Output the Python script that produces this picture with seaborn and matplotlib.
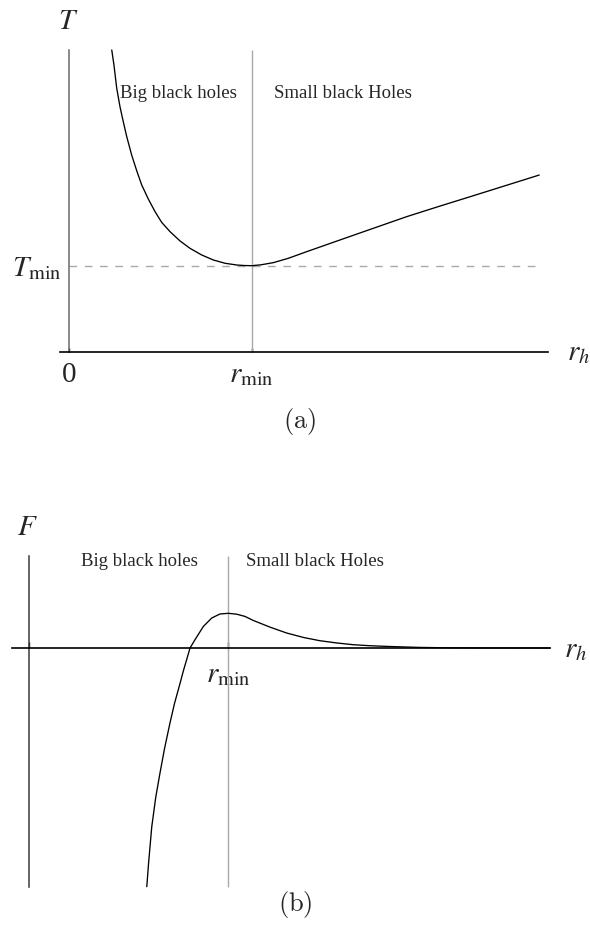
import matplotlib
matplotlib.use("Agg")
import numpy as np
import pandas as pd
import seaborn as sns
import matplotlib.pyplot as plt

# ---------------- data ----------------
# Panel (a): temperature T versus horizon radius r_h (units: r_min = 1, T_min = 1)
r_T = [0.234, 0.246, 0.261, 0.279, 0.297, 0.316, 0.343, 0.371, 0.398, 0.434,
       0.471, 0.507, 0.553, 0.608, 0.662, 0.726, 0.790, 0.854, 0.918, 0.960,
       1.000, 1.050, 1.118, 1.200, 1.301, 1.390, 1.483, 1.666, 1.848, 2.030,
       2.213, 2.574]
T_vals = [3.491, 3.318, 3.052, 2.836, 2.663, 2.490, 2.278, 2.094, 1.932, 1.770,
          1.624, 1.501, 1.393, 1.285, 1.201, 1.124, 1.066, 1.028, 1.008, 1.002,
          1.000, 1.010, 1.035, 1.085, 1.162, 1.228, 1.297, 1.432, 1.566, 1.688,
          1.808, 2.047]

# Panel (b): free energy F versus r_h (units: r_min = 1, F(r_min) = 1)
r_F = [0.591, 0.600, 0.616, 0.636, 0.657, 0.680, 0.707, 0.730, 0.758, 0.775,
       0.791, 0.808, 0.833, 0.875, 0.917, 0.958, 1.000, 1.042, 1.084, 1.125,
       1.210, 1.293, 1.380, 1.460, 1.545, 1.627, 1.710, 1.795, 1.962, 2.100,
       2.300, 2.614]
F_vals = [-6.879, -6.200, -5.150, -4.300, -3.611, -2.900, -2.170, -1.600, -1.017, -0.650,
          -0.337, 0.000, 0.240, 0.622, 0.865, 0.980, 1.000, 0.975, 0.910, 0.795,
          0.600, 0.432, 0.300, 0.210, 0.145, 0.095, 0.066, 0.046, 0.017, 0.006,
          0.002, 0.000]

r_min = 1.0
T_min = 1.0
x_ticks = [0.0, r_min]
x_ticklabels_a = ["0", r"$r_{\mathrm{min}}$"]
x_ticklabels_b = ["", r"$r_{\mathrm{min}}$"]
region_labels = ["Big black holes", "Small black Holes"]

# extents of axis lines (data units)
a_top, a_xlo, a_xhi, a_dash_end = 3.491, -0.049, 2.622, 2.589
b_top, b_bot, b_xlo, b_xhi = 2.660, -6.879, -0.084, 2.614

# ---------------- style ----------------
sns.set_theme(style="white")
plt.rcParams["font.family"] = ["Liberation Serif", "DejaVu Serif"]
plt.rcParams["mathtext.fontset"] = "stix"

W, H = 590, 933
fig = plt.figure(figsize=(W / 100, H / 100), dpi=100)
fig.patch.set_facecolor("white")

axA = fig.add_axes([0, 1 - 440 / H, 1, 440 / H])
axB = fig.add_axes([0, 0, 1, 463 / H])

AXIS_GRAY = "#6a6a6a"
LIGHT_GRAY = "#a9a9a9"
MATH_FS = 21
TEXT_FS = 13.5
CURVE_LW = 0.95

def setup(ax, xlim, ylim, left_bounds, bottom_bounds, left_color):
    ax.set_facecolor("none")
    ax.set_xlim(*xlim)
    ax.set_ylim(*ylim)
    for s in ("top", "right"):
        ax.spines[s].set_visible(False)
    ax.spines["left"].set_position(("data", 0))
    ax.spines["bottom"].set_position(("data", 0))
    ax.spines["left"].set_bounds(*left_bounds)
    ax.spines["bottom"].set_bounds(*bottom_bounds)
    ax.spines["left"].set_color(left_color)
    ax.spines["left"].set_linewidth(1.1)
    ax.spines["bottom"].set_color("black")
    ax.spines["bottom"].set_linewidth(1.2)
    ax.grid(False)

# ---------------- panel (a) ----------------
setup(axA, (-0.3777, 2.8517), (-1.0127, 4.068), (0, a_top), (a_xlo, a_xhi), AXIS_GRAY)
axA.vlines(r_min, 0, a_top, color=LIGHT_GRAY, lw=1.0)
axA.hlines(T_min, 0, a_dash_end, color=LIGHT_GRAY, lw=1.0, linestyles=(0, (5.5, 5.5)))
sns.lineplot(x=r_T, y=T_vals, ax=axA, color="black", linewidth=CURVE_LW,
             sort=False, estimator=None)
axA.set_xticks(x_ticks)
axA.set_xticklabels(x_ticklabels_a)
axA.set_yticks([T_min])
axA.set_yticklabels([r"$T_{\mathrm{min}}$"])
axA.tick_params(axis="x", direction="in", length=3, width=1, color="black",
                labelsize=MATH_FS, pad=7, bottom=True)
axA.tick_params(axis="y", direction="in", length=0, labelsize=MATH_FS, pad=5, left=True)
axA.set_xlabel("")
axA.set_ylabel("")
axA.text(-0.005, 3.814, r"$T$", fontsize=MATH_FS, ha="center", va="center")
axA.text(2.791, -0.008, r"$r_h$", fontsize=MATH_FS, ha="center", va="center")
axA.text(0.279, 2.99, region_labels[0], fontsize=TEXT_FS, ha="left", va="center")
axA.text(1.122, 2.99, region_labels[1], fontsize=TEXT_FS, ha="left", va="center")
axA.text(1.264, -0.80, r"$\mathrm{(a)}$", fontsize=19, ha="center", va="center",
         math_fontfamily="cm")

# ---------------- panel (b) ----------------
setup(axB, (-0.1455, 2.8149), (-8.213, 5.130), (b_bot, b_top), (b_xlo, b_xhi), "#3a3a3a")
axB.vlines(r_min, b_bot, b_top, color=LIGHT_GRAY, lw=1.0)
sns.lineplot(x=r_F, y=F_vals, ax=axB, color="black", linewidth=CURVE_LW,
             sort=False, estimator=None)
axB.set_xticks(x_ticks)
axB.set_xticklabels(x_ticklabels_b)
axB.set_yticks([])
axB.tick_params(axis="x", direction="in", length=4, width=1, color="black",
                labelsize=MATH_FS, pad=10, bottom=True)
axB.set_xlabel("")
axB.set_ylabel("")
axB.text(-0.010, 3.458, r"$F$", fontsize=MATH_FS, ha="center", va="center")
axB.text(2.740, -0.058, r"$r_h$", fontsize=MATH_FS, ha="center", va="center")
axB.text(0.261, 2.50, region_labels[0], fontsize=TEXT_FS, ha="left", va="center")
axB.text(1.089, 2.50, region_labels[1], fontsize=TEXT_FS, ha="left", va="center")
axB.text(1.335, -7.406, r"$\mathrm{(b)}$", fontsize=19, ha="center", va="center",
         math_fontfamily="cm")

fig.savefig("out.png", dpi=100, facecolor="white")
